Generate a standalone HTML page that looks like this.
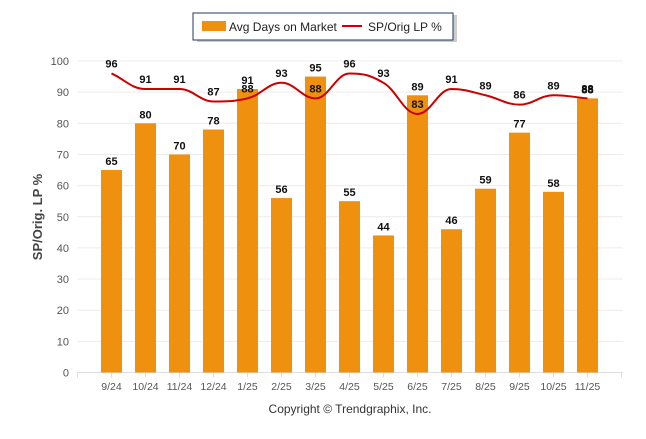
<!DOCTYPE html>
<html><head><meta charset="utf-8"><style>
body{margin:0;background:#fff;font-family:"Liberation Sans",Arial,sans-serif}
svg text{font-family:"Liberation Sans",Arial,sans-serif}
</style></head><body>
<svg id="chart" width="646" height="434" xmlns="http://www.w3.org/2000/svg">
<g>
<rect x="195" y="13" width="260" height="27" fill="#999" opacity="0.5" transform="translate(2,2)"/>
<rect x="193" y="13" width="260" height="27" fill="#fff" stroke="#1f3864" stroke-width="1"/>
<g><rect x="202" y="21" width="24" height="10" fill="#f0900f"/>
<text x="229" y="31" font-size="12" fill="#222">Avg Days on Market</text></g>
<g><line x1="342" y1="26" x2="362" y2="26" stroke="#cc0000" stroke-width="2"/>
<text x="368" y="31" font-size="12" fill="#222">SP/Orig LP %</text></g>
</g>
<g id="grid"></g>
<g id="bars"></g>
<g id="line"></g>
<g id="labels"></g>
<text transform="translate(42,217) rotate(-90)" text-anchor="middle" font-size="13" font-weight="bold" fill="#444">SP/Orig. LP %</text>
<text x="350" y="413" text-anchor="middle" font-size="12" fill="#333">Copyright © Trendgraphix, Inc.</text>
</svg>
<script>
const categories=["9/24","10/24","11/24","12/24","1/25","2/25","3/25","4/25","5/25","6/25","7/25","8/25","9/25","10/25","11/25"];
const daysValues=[65,80,70,78,91,56,95,55,44,89,46,59,77,58,88];
const spValues=[96,91,91,87,88,93,88,96,93,83,91,89,86,89,88];
const yTicks=[0,10,20,30,40,50,60,70,80,90,100];
const NS="http://www.w3.org/2000/svg";
const x0=77.5,step=34,yZero=372.5,yTop=61;
const xc=i=>x0+step*(i+1);
const y=v=>yZero-(yZero-yTop)*v/100;
function mk(t,a,p){const e=document.createElementNS(NS,t);for(const k in a)e.setAttribute(k,a[k]);p.appendChild(e);return e;}
const grid=document.getElementById('grid');
yTicks.forEach(t=>{
 const l=mk('line',{x1:x0,x2:623,y1:y(t),y2:y(t),stroke:t===0?'#ddd':'#ececec','stroke-width':1},grid);
 
 
 const tx=mk('text',{x:69,y:y(t)+4,'text-anchor':'end','font-size':11,fill:'#555'},grid);
 tx.textContent=t;
 
 
});
for(let k=0;k<=16;k++){
 const tk=mk('line',{x1:x0+step*k,x2:x0+step*k,y1:yZero,y2:yZero+5,stroke:'#ddd'},grid);
 
 
}
categories.forEach((c,i)=>{
 const tx=mk('text',{x:xc(i),y:390,'text-anchor':'middle','font-size':10.5,fill:'#555'},grid);
 tx.textContent=c;
 
 
});
const bars=document.getElementById('bars'),labels=document.getElementById('labels');
daysValues.forEach((v,i)=>{
 const r=mk('rect',{x:xc(i)-10.5,y:y(v),width:21,height:yZero-y(v),fill:'#f0900f'},bars);
 
 
 const t=mk('text',{x:xc(i),y:y(v)-5,'text-anchor':'middle','font-size':11,'font-weight':'bold',fill:'#111'},labels);
 t.textContent=v;
 
 
});
const pts=spValues.map((v,i)=>[xc(i),y(v)]);
let d='M'+pts[0][0]+','+pts[0][1];
const sm=1.5,den=sm+1;
function ctrl(i){
 const p=pts[i],a=pts[i-1]||p,b=pts[i+1]||p;
 let lx=(sm*p[0]+a[0])/den,ly=(sm*p[1]+a[1])/den,rx=(sm*p[0]+b[0])/den,ry=(sm*p[1]+b[1])/den;
 if(pts[i-1]&&pts[i+1]){const c=((ry-ly)*(rx-p[0]))/(rx-lx)+p[1]-ry;ly+=c;ry+=c;
  if(ly>a[1]&&ly>p[1]){ly=Math.max(a[1],p[1]);ry=2*p[1]-ly;}else if(ly<a[1]&&ly<p[1]){ly=Math.min(a[1],p[1]);ry=2*p[1]-ly;}
  if(ry>b[1]&&ry>p[1]){ry=Math.max(b[1],p[1]);ly=2*p[1]-ry;}else if(ry<b[1]&&ry<p[1]){ry=Math.min(b[1],p[1]);ly=2*p[1]-ry;}}
 return {l:[lx,ly],r:[rx,ry]};
}
for(let i=1;i<pts.length;i++){const c1=ctrl(i-1).r,c2=ctrl(i).l;d+=' C'+c1+' '+c2+' '+pts[i];}
const path=mk('path',{d:d,fill:'none',stroke:'#cc0000','stroke-width':2},document.getElementById('line'));


spValues.forEach((v,i)=>{
 const t=mk('text',{x:xc(i),y:y(v)-6,'text-anchor':'middle','font-size':11,'font-weight':'bold',fill:'#111'},labels);
 t.textContent=v;
 
 
});
</script>
</body></html>
